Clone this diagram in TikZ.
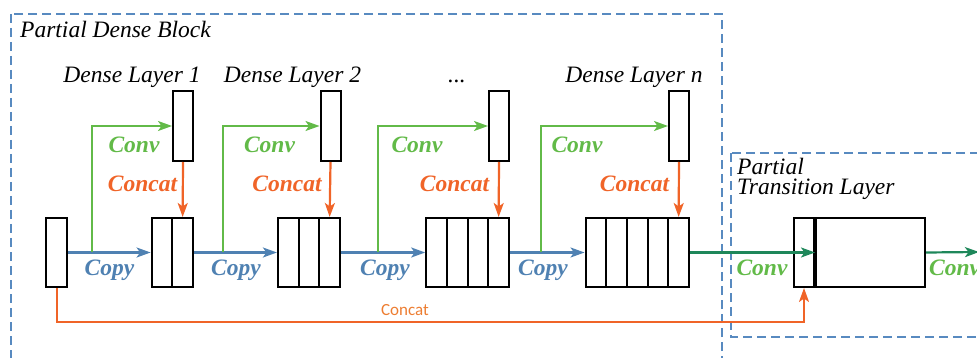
\documentclass[tikz,border=0pt]{standalone}
\usepackage{fontspec}
\setmainfont{Liberation Serif}
\newfontfamily\calib{Carlito}
\usetikzlibrary{arrows.meta}
\definecolor{dashblue}{RGB}{88,138,192}
\definecolor{copyblue}{RGB}{79,129,178}
\definecolor{convgreen}{RGB}{98,186,72}
\definecolor{catorange}{RGB}{240,100,40}
\definecolor{lightorange}{RGB}{237,125,49}
\definecolor{darkgreen}{RGB}{30,135,90}
\begin{document}
\begin{tikzpicture}[x=1pt,y=-1pt,
  cell/.style={draw=black, line width=2pt, minimum width=20.7pt, minimum height=69pt, inner sep=0pt},
  dbox/.style={draw=black, line width=2pt, minimum width=20pt, minimum height=70pt, inner sep=0pt},
  lbl/.style={font=\fontsize{23.5}{27}\selectfont\itshape, anchor=base, inner sep=0pt},
  blbl/.style={font=\fontsize{23.5}{27}\selectfont\bfseries\itshape, anchor=base, inner sep=0pt},
  region/.style={draw=dashblue, line width=2.2pt, dash pattern=on 9pt off 5pt},
  arr/.style={-{Stealth[length=14pt,width=10pt,inset=3.5pt]}, line width=2.2pt},
  conv/.style={arr, draw=convgreen, line width=1.8pt},
  cpy/.style={arr, draw=copyblue},
  cat/.style={arr, draw=catorange},
  outc/.style={arr, draw=darkgreen}
]
\useasboundingbox (0,0) rectangle (977,358);
\clip (0,0) rectangle (977,358);

% regions
\draw[region] (11,14) rectangle (722,380);
\draw[region] (731,153) rectangle (1000,337);

% titles
\node[lbl, anchor=base west] (tdb) at (20,38) {Partial Dense Block};
\node[lbl, anchor=base west] (tp1) at (737,175) {Partial};
\node[lbl, anchor=base west] (tp2) at (737,195) {Transition Layer};

\node[lbl] (l1) at (132,83) {Dense Layer 1};
\node[lbl] (l2) at (292.5,83) {Dense Layer 2};
\node[lbl] (l3) at (457,83) {...};
\node[lbl] (l4) at (634,83) {Dense Layer n};

% dense layer boxes
\node[dbox] (d1) at (183,126) {};
\node[dbox] (d2) at (330.5,126) {};
\node[dbox] (d3) at (499,126) {};
\node[dbox] (d4) at (679,126) {};

% bottom row
\node[cell, minimum width=20.5pt] (b0) at (56.7,252.5) {};
\foreach \j/\r in {2/193,3/340,4/509,5/689}{
  \foreach \i in {1,...,\j}{
    \node[cell] (c\j-\i) at ({\r-(\j-\i+0.5)*20.7},252.5) {};
  }
}
\node[cell, minimum width=20pt] (t1) at (804,252.5) {};
\node[cell, minimum width=109pt] (t2) at (870.5,252.5) {};

% copy arrows
\draw[cpy] (b0.east) -- (c2-1.west);
\draw[cpy] (c2-2.east) -- (c3-1.west);
\draw[cpy] (c3-3.east) -- (c4-1.west);
\draw[cpy] (c4-4.east) -- (c5-1.west);

% conv arrows
\coordinate (g1) at (92,252);
\coordinate (g2) at (223,252);
\coordinate (g3) at (378,252);
\coordinate (g4) at (541,252);
\draw[conv] (g1) |- (d1.west);
\draw[conv] (g2) |- (d2.west);
\draw[conv] (g3) |- (d3.west);
\draw[conv] (g4) |- (d4.west);

% concat arrows
\draw[cat] (d1.south) -- (c2-2.north);
\draw[cat] (d2.south) -- (c3-3.north);
\draw[cat] (d3.south) -- (c4-4.north);
\draw[cat] (d4.south) -- (c5-5.north);

% bottom concat
\coordinate (ob) at (0,322);
\draw[cat, line width=1.8pt] (b0.south) -- (b0.south |- ob) -| (t1.south);

% transition arrows
\draw[outc] (c5-5.east) -- (t1.east);
\coordinate (oe) at (979,252);
\draw[outc] (t2.east) -- (oe);

% labels
\node[blbl, text=convgreen] (cv1) at (134,153) {Conv};
\node[blbl, text=convgreen] (cv2) at (269.5,153) {Conv};
\node[blbl, text=convgreen] (cv3) at (417,153) {Conv};
\node[blbl, text=convgreen] (cv4) at (577,153) {Conv};
\node[blbl, text=convgreen] (cv5) at (762,275) {Conv};
\node[blbl, text=convgreen, anchor=base west] (cv6) at (929,275) {Conv};

\node[blbl, text=catorange] (ct1) at (142.5,192) {Concat};
\node[blbl, text=catorange] (ct2) at (287,192) {Concat};
\node[blbl, text=catorange] (ct3) at (454.5,192) {Concat};
\node[blbl, text=catorange] (ct4) at (634.5,192) {Concat};

\node[blbl, text=copyblue] (cp1) at (109.5,275) {Copy};
\node[blbl, text=copyblue] (cp2) at (236,275) {Copy};
\node[blbl, text=copyblue] (cp3) at (385,275) {Copy};
\node[blbl, text=copyblue] (cp4) at (543,275) {Copy};

\node[font=\calib\fontsize{17}{20}\selectfont, text=lightorange, anchor=base, inner sep=0pt] (cc) at (405,315) {Concat};
\end{tikzpicture}
\end{document}
